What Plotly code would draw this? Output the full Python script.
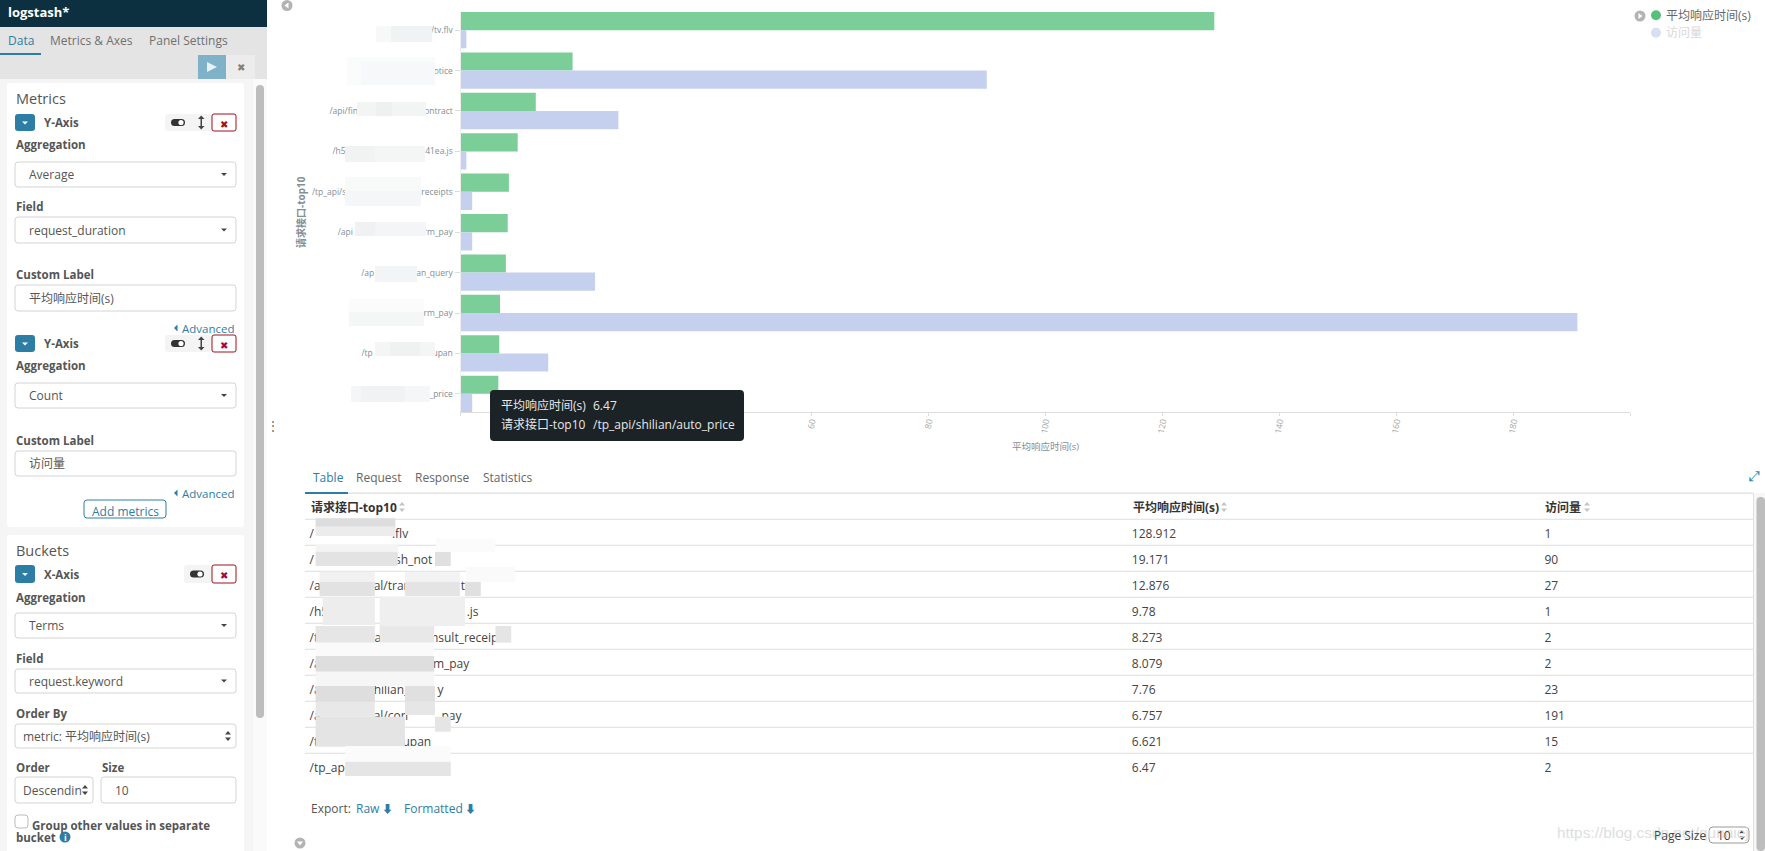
import plotly.graph_objects as go

W, H = 1765, 851
NB = "\u00a0"
FONT = "Open Sans, Noto Sans CJK SC, sans-serif"
TXT = "#555555"
BLUE = "#2d7ea5"
RULE = "#dddddd"

# chart data
axis_labels = [
    "/tv.flv",
    "otice",
    "/api/fin" + NB * 30 + "ontract",
    "/h5" + NB * 36 + "41ea.js",
    "/tp_api/s" + NB * 34 + "receipts",
    "/api" + NB * 32 + "rm_pay",
    "/ap" + NB * 19 + "an_query",
    "rm_pay",
    "/tp" + NB * 27 + "upan",
    "_price",
]
avg_duration = [128.912, 19.171, 12.876, 9.78, 8.273, 8.079, 7.76, 6.757, 6.621, 6.47]
visits = [1, 90, 27, 1, 2, 2, 23, 191, 15, 2]
x_ticks = [0, 20, 40, 60, 80, 100, 120, 140, 160, 180, 200]
x_tick_text = ["", "20", "40", "60", "80", "100", "120", "140", "160", "180", ""]

# table rows, blurred parts of the paths are left as gaps
table_paths = [
    "/" + NB * 25 + ".flv",
    "/" + NB * 26 + "sh_not",
    "/a" + NB * 17 + "al/tran" + NB * 16 + "tr",
    "/h5" + NB * 17 + "/" + NB * 26 + ".js",
    "/t" + NB * 18 + "a" + NB * 16 + "nsult_receip",
    "/a" + NB * 36 + "m_pay",
    "/a" + NB * 17 + "hilian_" + NB * 9 + "y",
    "/a" + NB * 17 + "al/con" + NB * 9 + "_pay",
    "/t" + NB * 27 + "upan",
    "/tp_ap",
]
table_duration = ["128.912", "19.171", "12.876", "9.78", "8.273", "8.079", "7.76", "6.757", "6.621", "6.47"]
table_visits = ["1", "90", "27", "1", "2", "2", "23", "191", "15", "2"]

shapes = []
notes = []


def rect(x0, y0, x1, y1, fill="rgba(0,0,0,0)", line=None, r=0, width=1):
    s = dict(xref="x2", yref="y2", fillcolor=fill, layer="above",
             line=dict(color=line or "rgba(0,0,0,0)", width=width if line else 0))
    if r:
        s.update(type="path", path=(
            f"M{x0+r},{y0} L{x1-r},{y0} Q{x1},{y0} {x1},{y0+r} L{x1},{y1-r} Q{x1},{y1} {x1-r},{y1} "
            f"L{x0+r},{y1} Q{x0},{y1} {x0},{y1-r} L{x0},{y0+r} Q{x0},{y0} {x0+r},{y0} Z"))
    else:
        s.update(type="rect", x0=x0, y0=y0, x1=x1, y1=y1)
    shapes.append(s)


def poly(points, fill):
    p = "M" + " L".join(f"{x},{y}" for x, y in points) + " Z"
    shapes.append(dict(type="path", path=p, xref="x2", yref="y2", fillcolor=fill,
                       layer="above", line=dict(width=0)))


def dot(x, y, r, fill):
    shapes.append(dict(type="circle", xref="x2", yref="y2", x0=x-r, x1=x+r, y0=y-r, y1=y+r,
                       fillcolor=fill, layer="above", line=dict(width=0)))


def label(x, y, text, size=12, color=TXT, bold=False, anchor="left", angle=0):
    notes.append(dict(xref="x2", yref="y2", x=x, y=y, text=f"<b>{text}</b>" if bold else text,
                      showarrow=False, xanchor=anchor, yanchor="middle", borderpad=0, textangle=angle,
                      font=dict(family=FONT, size=size, color=color)))


def caret(x, y, color="#444444"):
    poly([(x-3, y-1.5), (x+3, y-1.5), (x, y+1.5)], color)


def updown(x, y):
    poly([(x-3, y-1.5), (x+3, y-1.5), (x, y-5)], "#444444")
    poly([(x-3, y+1.5), (x+3, y+1.5), (x, y+5)], "#444444")


def select_box(y0, y1, text, x0=15, x1=236, tx=28, arrows=False):
    rect(x0, y0, x1, y1, "#ffffff", "#d4d4d4", r=3)
    label(tx, (y0+y1)/2, text, color="#555555")
    if arrows:
        updown(x1-8, (y0+y1)/2)
    elif arrows is False:
        caret(x1-12, (y0+y1)/2)


def agg_header(y0, y1, text, toggle_x=165, with_arrows=True):
    rect(15, y0, 35, y1, BLUE, r=3)
    caret(25, (y0+y1)/2+0.5, "#ffffff")
    label(43, (y0+y1)/2, text, size=11.5, bold=True)
    rect(toggle_x, y0, 212, y1, "#f4f4f4", r=3)
    yc = (y0+y1)/2
    tx = toggle_x + 13
    rect(tx-7, yc-3.5, tx+7, yc+3.5, "#333333", r=3.5)
    dot(tx+3, yc, 2.6, "#ffffff")
    if with_arrows:
        rect(200.5, y0+3, 202, y1-3, "#444444")
        poly([(198, y0+5), (204.5, y0+5), (201.2, y0+1.5)], "#444444")
        poly([(198, y1-5), (204.5, y1-5), (201.2, y1-1.5)], "#444444")
    rect(212, y0, 236, y1, "#ffffff", "#a30f1b", r=2)
    label(224, yc+1.5, "✖", size=9.5, color="#a30f1b", anchor="center")


def link_advanced(y):
    label(236, y, "Advanced", size=11.5, color=BLUE, anchor="right")
    poly([(174, y), (177.5, y-3.5), (177.5, y+3.5)], BLUE)


def bold_label(x, y, text):
    label(x, y, text, size=11.5, bold=True)


# left editor panel
rect(0, 27, 267, 79, "#e4e4e4")
rect(0, 79, 267, H, "#f5f5f5")
rect(253, 79, 267, H, "#fafafa")
rect(0, 0, 267, 27, "#0c3040")
label(7, 12, "logstash*", size=13, color="#ffffff", bold=True)
label(7, 40.5, "Data", color=BLUE)
label(49, 40.5, "Metrics & Axes", color="#707070")
label(148, 40.5, "Panel Settings", color="#707070")
rect(0, 53, 41, 55, BLUE)
rect(198, 55, 226, 79, "#7fb1c9")
poly([(207, 62), (217, 67), (207, 72)], "#e8f1f5")
rect(226, 55, 255, 79, "#ececec")
label(241, 67, "✖", size=10, color="#808080", anchor="center")
rect(7, 83, 244, 527, "#ffffff", r=3)
rect(7, 535, 244, H+6, "#ffffff", r=3)
rect(256, 85, 264, 718, "#bdbdbd", r=4)

label(15, 98, "Metrics", size=14.5)
agg_header(114, 131, "Y-Axis")
bold_label(15, 144, "Aggregation")
select_box(162, 187, "Average")
bold_label(15, 206, "Field")
select_box(217, 243, "request_duration")
bold_label(15, 274, "Custom Label")
select_box(285, 311, "平均响应时间(s)", arrows=None)
link_advanced(328)
agg_header(335, 352, "Y-Axis")
bold_label(15, 365, "Aggregation")
select_box(383, 408, "Count")
bold_label(15, 440, "Custom Label")
select_box(451, 476, "访问量", arrows=None)
link_advanced(493)
rect(84, 500, 166, 518, "#ffffff", BLUE, r=3)
label(125, 511, "Add metrics", color=BLUE, anchor="center")

label(15, 550, "Buckets", size=14.5)
agg_header(565, 583, "X-Axis", toggle_x=184, with_arrows=False)
bold_label(15, 597, "Aggregation")
select_box(613, 638, "Terms")
bold_label(15, 658, "Field")
select_box(669, 693, "request.keyword")
bold_label(15, 713, "Order By")
select_box(724, 748, "metric: 平均响应时间(s)", tx=22, arrows=True)
bold_label(15, 767, "Order")
bold_label(101, 767, "Size")
select_box(777, 803, "Descendin", x0=15, x1=93, tx=22, arrows=True)
select_box(777, 803, "10", x0=101, x1=236, tx=114, arrows=None)
rect(15, 815, 28, 828, "#ffffff", "#bbbbbb", r=3)
label(31, 825, "Group other values in separate", size=11.5, bold=True)
label(15, 837, "bucket", size=11.5, bold=True)
dot(65, 837, 5.5, BLUE)
label(65, 837, "i", size=9, color="#ffffff", bold=True, anchor="center")
label(273, 425, "⋮", size=12, color="#666666", anchor="center")

# little round chevrons
dot(287, 5.5, 5.5, "#b3b3b3")
poly([(288.5, 2.5), (288.5, 8.5), (284.5, 5.5)], "#ffffff")
dot(300, 843, 5.5, "#b3b3b3")
poly([(297, 841.5), (303, 841.5), (300, 845.5)], "#ffffff")
dot(1640, 16, 5.5, "#b3b3b3")
poly([(1638.5, 13), (1638.5, 19), (1642.5, 16)], "#ffffff")

# legend
dot(1656, 15.3, 5, "#57c17b")
label(1665, 15.3, "平均响应时间(s)", size=12, color="#666666")
dot(1656, 32.7, 5, "#d9dff3")
label(1665, 32.7, "访问量", size=12, color="#d8d8d8")

# axis titles sit a bit off where plotly would put them
label(301, 212, "请求接口-top10", size=10, color="#848e96", bold=True, anchor="center", angle=-90)
label(1045, 446.5, "平均响应时间(s)", size=9.5, color="#848e96", anchor="center")

# blurred tick labels
axis_blur = [
    (376, 26, 432, 42, "#f7f8f8"), (391, 26, 432, 42, "#f1f2f3"),
    (347, 57, 435, 85, "#fafbfb"), (361, 62, 435, 85, "#f7f8f9"),
    (357, 102, 426, 116, "#f3f4f4"), (376, 102, 392, 116, "#eff0f1"),
    (345, 146, 425, 162, "#f4f5f5"), (345, 146, 375, 162, "#f1f2f2"),
    (345, 177, 421, 206, "#f8f9f9"), (345, 191, 421, 206, "#f5f6f7"),
    (355, 222, 426, 236, "#f4f5f6"), (355, 222, 375, 236, "#f0f1f2"),
    (375, 266, 417, 282, "#f3f4f5"),
    (349, 299, 424, 326, "#fbfbfb"), (349, 312, 424, 326, "#f5f6f6"),
    (375, 342, 435, 356, "#f4f6f5"), (390, 342, 420, 356, "#f0f2f1"),
    (351, 386, 430, 402, "#f5f6f7"), (361, 386, 405, 402, "#f1f2f3"),
]
for x0, y0, x1, y1, c in axis_blur:
    rect(x0, y0, x1, y1, c)

# tooltip
rect(490, 390, 744, 441, "#1b2327", r=4)
label(500, 405.5, "平均响应时间(s)", size=12, color="#e8e8e8")
label(592, 405.5, "6.47", size=12, color="#e8e8e8")
label(500, 424.5, "请求接口-top10", size=12, color="#e8e8e8")
label(592, 424.5, "/tp_api/shilian/auto_price", size=12, color="#e8e8e8")

# table tabs and rules
label(311.6, 477.7, "Table", color=BLUE)
label(355, 477.7, "Request", color="#666666")
label(414, 477.7, "Response", color="#666666")
label(482, 477.7, "Statistics", color="#666666")
label(1754, 475, "⤢", size=14, color=BLUE, anchor="center")
rect(305, 492.6, 1753, 493.8, RULE)
rect(305, 492, 348, 494, BLUE)
ROW_TOP, ROW_H = 519.3, 26
for i in range(10):
    rect(305, ROW_TOP + i*ROW_H - 0.5, 1753, ROW_TOP + i*ROW_H + 0.5, RULE)
rect(1753, 493, 1754, H, "#e0e0e0")
rect(1754, 493, 1765, H, "#f7f7f7")
rect(1756.5, 497, 1765, H, "#bdbdbd", r=4)

COL_X = [309.6, 1131.8, 1544.4]
headers = ["请求接口-top10", "平均响应时间(s)", "访问量"]
sort_x = [402, 1224, 1587]
for x, text, sx in zip(COL_X, headers, sort_x):
    label(x, 507, text, size=12, color="#333333", bold=True)
    poly([(sx-3, 505.5), (sx+3, 505.5), (sx, 502)], "#c4c4c4")
    poly([(sx-3, 508.5), (sx+3, 508.5), (sx, 512)], "#c4c4c4")

# mosaic over the table paths, measured on a crop (x/2.53, y/3 from 280,460)
table_blur = [
    (90, 175, 292, 200, "#dddddd"), (90, 200, 292, 228, "#ececec"),
    (90, 255, 298, 275, "#f4f4f4"), (90, 275, 298, 318, "#e3e3e3"),
    (392, 275, 432, 318, "#e0e0e0"), (395, 235, 545, 275, "#fbfbfb"),
    (100, 335, 240, 365, "#f1f1f1"), (100, 365, 240, 408, "#e2e2e2"),
    (316, 335, 455, 365, "#f3f3f3"), (316, 365, 455, 408, "#e4e4e4"),
    (468, 365, 508, 408, "#e0e0e0"), (470, 320, 595, 365, "#fafafa"),
    (108, 412, 240, 495, "#ededed"), (252, 410, 468, 498, "#efefef"),
    (90, 498, 240, 548, "#e6e6e6"), (252, 498, 390, 548, "#e8e8e8"),
    (545, 498, 585, 548, "#e5e5e5"),
    (90, 548, 390, 588, "#fafafa"), (90, 588, 390, 635, "#dedede"),
    (90, 635, 390, 678, "#f6f6f6"), (90, 678, 240, 725, "#dedede"),
    (316, 678, 392, 725, "#e0e0e0"),
    (90, 725, 240, 770, "#e8e8e8"), (316, 725, 392, 765, "#e6e6e6"),
    (392, 770, 432, 815, "#e5e5e5"),
    (90, 770, 316, 860, "#e4e4e4"),
    (165, 858, 432, 905, "#fbfbfb"), (165, 905, 432, 948, "#e5e5e5"),
]
for x0, y0, x1, y1, c in table_blur:
    rect(280 + x0/2.53, 460 + y0/3, 280 + x1/2.53, 460 + y1/3, c)

# footer
label(309.6, 808.3, "Export:", color="#555555")
label(355, 808.3, "Raw", color=BLUE)
label(387.5, 808.3, "⬇", size=11, color=BLUE, anchor="center")
label(402.5, 808.3, "Formatted", color=BLUE)
label(470, 808.3, "⬇", size=11, color=BLUE, anchor="center")
notes.append(dict(xref="x2", yref="y2", x=1555, y=832.7, text="https://blog.csdn.net/qunniej", showarrow=False,
                  xanchor="left", yanchor="middle", font=dict(family="Liberation Sans", size=15.4, color="#dedede")))
label(1653.4, 835.7, "Page Size", color="#444444")
rect(1709, 827, 1749, 843, "rgba(255,255,255,0)", "#999999", r=4)
label(1716, 835.5, "10", color="#444444")
updown(1742, 835)

# text traces sit about 3px high of the row centre
row_y = [ROW_TOP + (i + 0.5)*ROW_H + 3 for i in range(10)]

fig = go.Figure()
fig.add_trace(go.Bar(y=axis_labels, x=avg_duration, orientation="h", name="平均响应时间(s)",
                     marker=dict(color="#7bce98", line=dict(width=0))))
fig.add_trace(go.Bar(y=axis_labels, x=visits, orientation="h", name="访问量",
                     marker=dict(color="#c5d0ee", line=dict(width=0))))
for x, col in zip(COL_X, [table_paths, table_duration, table_visits]):
    fig.add_trace(go.Scatter(x=[x]*len(col), y=row_y, text=col, mode="text", xaxis="x2", yaxis="y2",
                             textposition="middle right", hoverinfo="skip",
                             textfont=dict(family=FONT, size=12, color="#444444")))

tick_font = dict(family=FONT, size=8.5, color="#848e96")
fig.update_layout(
    width=W, height=H, autosize=False, showlegend=False,
    margin=dict(l=0, r=0, t=0, b=0, pad=0),
    paper_bgcolor="#ffffff", plot_bgcolor="rgba(0,0,0,0)",
    font=dict(family=FONT),
    barmode="group", bargap=0.1, bargroupgap=0,
    xaxis=dict(domain=[460.5/W, 1630/W], range=[0, 200], tickmode="array", automargin=False,
               tickvals=x_ticks, ticktext=x_tick_text, tickangle=-80, ticklabelstandoff=-3,
               showgrid=False, zeroline=False, showline=True, linecolor=RULE,
               ticks="outside", ticklen=3, tickcolor=RULE, tickfont=dict(family=FONT, size=8.5, color="#a8a8a8")),
    yaxis=dict(domain=[1-412/H, 1-12/H], type="category", categoryorder="array", automargin=False,
               categoryarray=axis_labels, range=[9.45, -0.45],
               showgrid=False, zeroline=False, showline=True, linecolor="#eeeeee",
               ticks="outside", ticklen=5, tickcolor=RULE, tickfont=tick_font),
    xaxis2=dict(domain=[0, 1], range=[0, W], visible=False, anchor="y2", fixedrange=True),
    yaxis2=dict(domain=[0, 1], range=[H, 0], visible=False, anchor="x2", fixedrange=True),
    shapes=shapes,
    annotations=notes,
)

fig.write_html("out.html", config=dict(displayModeBar=False),
               post_script="document.body.style.margin='0';")
